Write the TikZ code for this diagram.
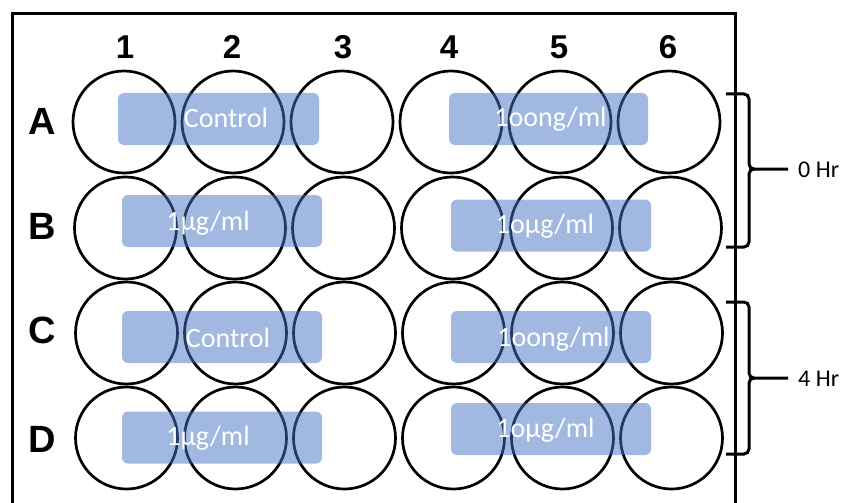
\documentclass[tikz,border=0pt]{standalone}
\usepackage{fontspec}
\setmainfont{Carlito}
\newfontfamily\labfont{Liberation Sans}
\definecolor{wellblue}{RGB}{68,114,196}
\begin{document}
\begin{tikzpicture}[x=1pt,y=-1pt,
 well/.style={circle,draw,line width=2.7pt,minimum size=102pt,inner sep=0pt},
 dosebox/.style={rectangle,rounded corners=6pt,fill=wellblue,fill opacity=0.5,minimum width=200pt,minimum height=52pt,inner sep=0pt},
 dosetext/.style={anchor=base,text=white,font=\fontsize{28}{30}\selectfont,inner sep=0pt},
 collab/.style={anchor=base,font=\labfont\bfseries\fontsize{33}{35}\selectfont,inner sep=0pt},
 rowlab/.style={anchor=base,font=\labfont\bfseries\fontsize{38}{40}\selectfont,inner sep=0pt},
 hrlab/.style={anchor=west,font=\fontsize{24}{26}\selectfont,inner sep=0pt},
 bracket/.style={line width=3pt},
 frame/.style={line width=3pt}]
\useasboundingbox (0,0) rectangle (844,503);
\clip (0,0) rectangle (844,503);
\fill[white] (0,0) rectangle (844,503);
% plate frame
\draw[frame] (12,520) -- (12,14) -- (735,14) -- (735,520);
% column labels
\foreach \c/\x in {1/125,2/232,3/343,4/449,5/559,6/668}
  \node[collab] (col\c) at (\x,59) {\c};
% row labels
\foreach \r/\y in {A/134,B/239,C/343,D/452}
  \node[rowlab] (row\r) at (42,\y) {\r};
% wells
\foreach \r/\y/\xs in {A/122/124,B/228/125.5,C/333/126.5,D/438/126.5}
  \foreach \c in {1,...,6}
    \node[well] (w\r\c) at ({\xs+109*(\c-1)},\y) {};
% dose boxes
\node[dosebox,minimum width=201pt] (bA1) at (218.5,119) {};
\node[dosebox,minimum width=199pt] (bA2) at (548.5,119) {};
\node[dosebox] (bB1) at (222,221) {};
\node[dosebox] (bB2) at (551,225.5) {};
\node[dosebox] (bC1) at (222,337) {};
\node[dosebox] (bC2) at (551,337) {};
\node[dosebox] (bD1) at (222,437.5) {};
\node[dosebox] (bD2) at (551,429) {};
% dose texts
\node[dosetext] (tA1) at (226,128) {Control};
\node[dosetext] (tA2) at (550.5,127) {1oong/ml};
\node[dosetext] (tB1) at (208,230) {1µg/ml};
\node[dosetext] (tB2) at (545,233) {1oµg/ml};
\node[dosetext] (tC1) at (228,347) {Control};
\node[dosetext] (tC2) at (553.5,346) {1oong/ml};
\node[dosetext] (tD1) at (208,445) {1µg/ml};
\node[dosetext] (tD2) at (545.5,437) {1oµg/ml};
% time labels
\node[hrlab] (h0) at (798,170) {0 Hr};
\node[hrlab] (h4) at (798,379) {4 Hr};
\coordinate (tip0) at (788,169);
\coordinate (tip4) at (788,378);
% brackets
\draw[bracket] (726,94) -- (744,94) to[out=0,in=90] (749,99) -- (749,164)
  to[out=270,in=180] (754,169) -- (tip0);
\draw[bracket] (754,169) to[out=180,in=90] (749,174) -- (749,242)
  to[out=270,in=0] (744,247) -- (726,247);
\draw[bracket] (726,302) -- (744,302) to[out=0,in=90] (749,307) -- (749,373)
  to[out=270,in=180] (754,378) -- (tip4);
\draw[bracket] (754,378) to[out=180,in=90] (749,383) -- (749,449)
  to[out=270,in=0] (744,454) -- (726,454);
\end{tikzpicture}
\end{document}
